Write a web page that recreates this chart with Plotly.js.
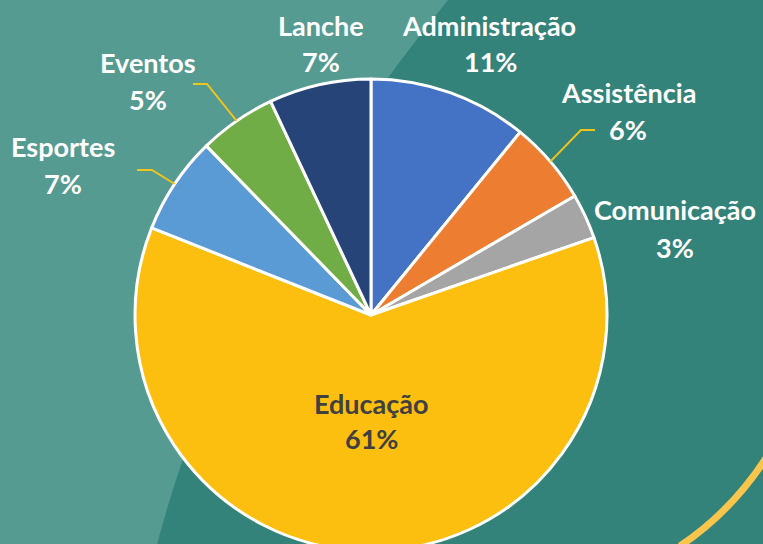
<!DOCTYPE html>
<html><head><meta charset="utf-8">
<script src="https://cdn.plot.ly/plotly-3.0.1.min.js"></script>
<style>html,body{margin:0;padding:0;overflow:hidden;background:#33837a}#chart{width:763px;height:552px}</style>
</head><body><div id="chart"></div>
<script>
// ---- data ----
const categories = ['Administração','Assistência','Comunicação','Educação','Esportes','Eventos','Lanche'];
const values = [10.9, 5.7, 3.1, 61.4, 6.7, 5.3, 7.0];
const sliceColors = ['#4472c4','#ed7d31','#a5a5a5','#fcbf10','#5b9bd5','#70ad47','#264478'];

// ---- layout config (pixels) ----
const W = 763, H = 552, CX = 371, CY = 315, R = 236;
// label line centres: [nameX, nameY, pctX, pctY]
const labelPos = {
  'Administração': [489, 26, 490, 61],
  'Assistência':   [628, 93, 628, 130],
  'Comunicação':   [675, 209, 675, 247],
  'Educação':      [371, 403, 371, 438],
  'Esportes':      [63, 147, 63, 183],
  'Eventos':       [148, 62, 148, 99],
  'Lanche':        [321, 26, 321, 61]
};
// leader lines: elbow and end points
const leaders = {
  'Assistência': [[581,130],[595,130]],
  'Eventos':     [[207,84],[193,84]],
  'Esportes':    [[152,170],[137,170]]
};

const px = x => x / W;
const py = y => 1 - y / H;
const P = (x, y) => px(x).toFixed(5) + ',' + py(y).toFixed(5);

const total = values.reduce((a, b) => a + b, 0);
const annotations = [];
const shapes = [];

// decorative background shapes
shapes.push({type:'path', xref:'paper', yref:'paper', layer:'below',
  path: 'M' + P(0,0) + ' L' + P(448,0) + ' C' + P(302,180) + ' ' + P(202,364) + ' ' + P(153,560) + ' L' + P(0,560) + ' Z',
  fillcolor:'#559b92', line:{width:0}});
shapes.push({type:'path', xref:'paper', yref:'paper', layer:'below',
  path: 'M' + P(680,546) + ' Q' + P(731,512) + ' ' + P(766,458),
  line:{color:'#f9c54a', width:7}});

let cum = 0;
categories.forEach((c, i) => {
  const start = cum / total * 360;
  cum += values[i];
  const end = cum / total * 360;
  const mid = (start + end) / 2 * Math.PI / 180;
  const pct = Math.round(values[i] / total * 100) + '%';
  const pos = labelPos[c];
  const col = c === 'Educação' ? '#404040' : '#ffffff';
  const font = {family:'Lato, "Open Sans", sans-serif', size:27, color:col, weight:700};
  annotations.push({xref:'paper', yref:'paper', x:px(pos[0]), y:py(pos[1]), xanchor:'center', yanchor:'middle', showarrow:false, text:'<b>' + c + '</b>', font:font});
  annotations.push({xref:'paper', yref:'paper', x:px(pos[2]), y:py(pos[3]), xanchor:'center', yanchor:'middle', showarrow:false, text:'<b>' + pct + '</b>', font:font});
  if (leaders[c]) {
    const sx = CX + R * Math.sin(mid), sy = CY - R * Math.cos(mid);
    const [e1, e2] = leaders[c];
    shapes.push({type:'path', xref:'paper', yref:'paper', layer:'above',
      path: 'M' + P(sx, sy) + ' L' + P(e1[0], e1[1]) + ' L' + P(e2[0], e2[1]),
      line:{color:'#f0c419', width:2}});
  }
});

const trace = {
  type:'pie', labels:categories, values:values, sort:false, direction:'clockwise', rotation:0,
  marker:{colors:sliceColors, line:{color:'#ffffff', width:3}},
  textinfo:'none', hoverinfo:'none', showlegend:false,
  domain:{x:[(CX - 250) / W, (CX + 250) / W], y:[py(CY + R), py(CY - R)]}
};

Plotly.newPlot('chart', [trace], {
  width:W, height:H, margin:{l:0, r:0, t:0, b:0},
  paper_bgcolor:'#33837a', showlegend:false,
  shapes:shapes, annotations:annotations
}, {staticPlot:true});
</script></body></html>
